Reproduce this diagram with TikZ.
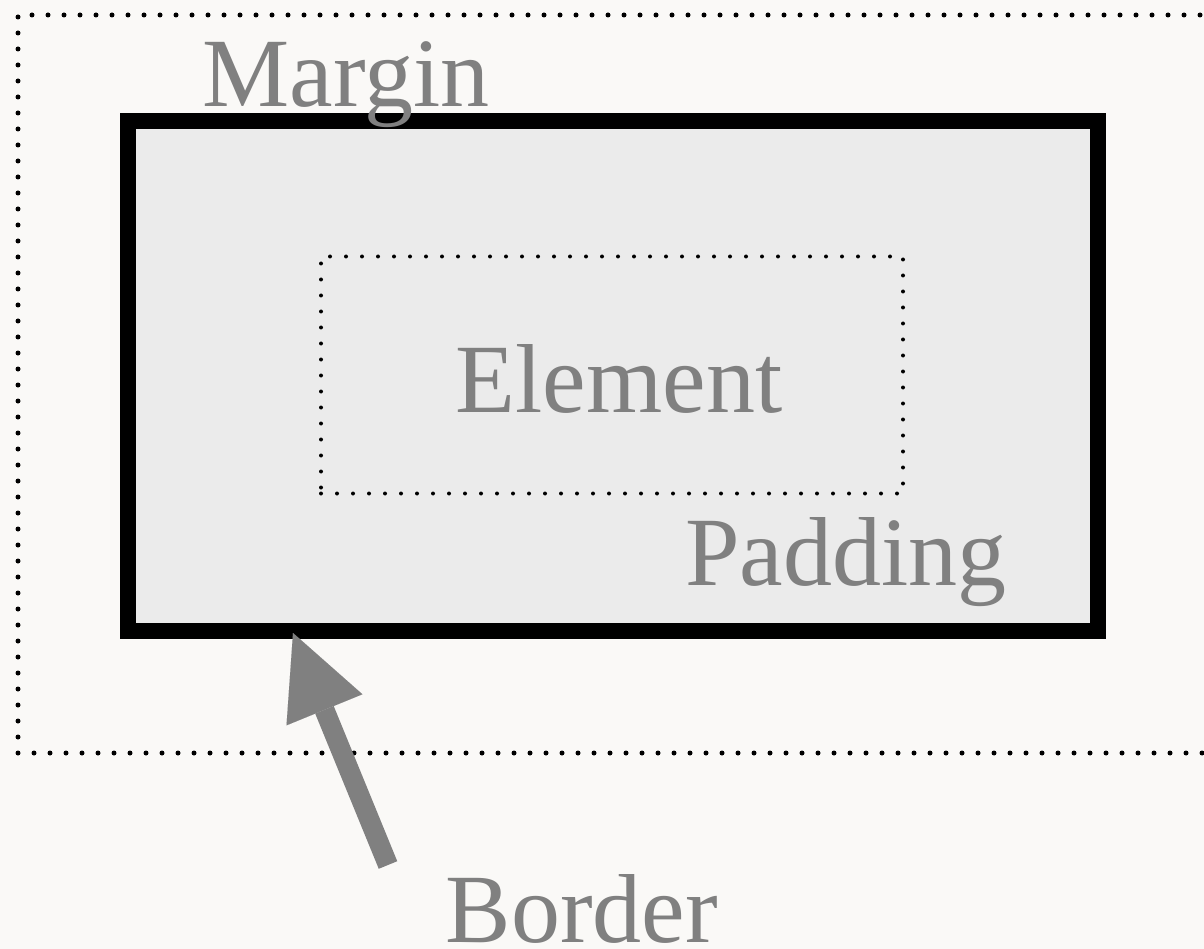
\documentclass[tikz,border=0pt]{standalone}
\usepackage{fontspec}
\setmainfont{Liberation Serif}
\usetikzlibrary{arrows.meta}
\definecolor{bg}{HTML}{FAF9F7}
\definecolor{boxfill}{HTML}{EBEBEB}
\definecolor{txt}{HTML}{808080}
\tikzset{
  lbl/.style={text=txt, font=\fontsize{98}{104}\selectfont, inner sep=0pt, anchor=base},
  dotline/.style={line width=#1, line cap=round, dash pattern=on 0pt off 16pt},
  rectnode/.style={inner sep=0pt, outer sep=0pt},
  bigarrow/.style={draw=txt, line width=20pt, -{Triangle[length=83pt, width=82pt, line width=0.01pt]}}
}
\begin{document}
\begin{tikzpicture}[x=1pt, y=-1pt]
  \useasboundingbox (0,0) rectangle (1204,949);
  \clip (0,0) rectangle (1204,949);
  \fill[bg] (0,0) rectangle (1204,949);
  % margin (outer dotted)
  \node[rectnode, draw, dotline=5pt, minimum width=1230pt, minimum height=738pt, anchor=north west] (margin) at (18,15) {};
  % border box
  \node[rectnode, draw, fill=boxfill, line width=16pt, minimum width=970pt, minimum height=510pt] (box) at (613,376) {};
  % element (inner dotted)
  \node[rectnode, draw, dotline=4pt, minimum width=582pt, minimum height=237pt] (elem) at (612,375) {};
  % labels
  \node[lbl] (marginlbl) at (346,107) {Margin};
  \node[lbl] (elemlbl) at (619,412) {Element};
  \node[lbl] (padlbl) at (846,585) {Padding};
  \node[lbl] (borderlbl) at (582,942) {Border};
  % arrow
  \coordinate (tail) at (388,865);
  \coordinate (tip) at (293,633);
  \draw[bigarrow] (tail) -- (tip);
\end{tikzpicture}
\end{document}
